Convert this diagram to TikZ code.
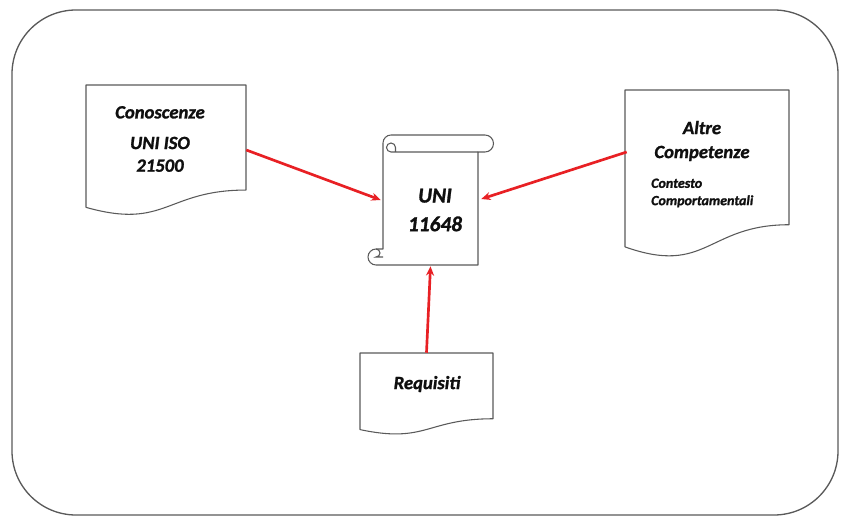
\documentclass[tikz,border=0pt]{standalone}
\usepackage{fontspec}
\setmainfont{Carlito}[BoldItalicFeatures={FakeBold=1.3}]
\usetikzlibrary{arrows.meta,calc}
\definecolor{edge}{RGB}{90,90,90}
\definecolor{arrred}{RGB}{232,32,36}
\definecolor{txt}{RGB}{15,15,15}
\tikzset{
  shapeline/.style={draw=edge,line width=0.8pt,fill=white,line join=round},
  detail/.style={draw=edge,line width=0.8pt},
  arr/.style={draw=arrred,line width=2pt,-{Stealth[length=7pt,width=6pt]}},
  lbl/.style={text=txt,font=\bfseries\itshape,inner sep=0pt,align=center},
  hold/.style={inner sep=0pt,draw=none},
}
\newcommand{\docshape}[4]{% x1 x2 top h
  \path[shapeline] (#1,#3) -- (#2,#3) -- (#2,{#3+0.802*#4})
    .. controls ({(#1+#2)/2},{#3+0.802*#4}) and ({(#1+#2)/2},{#3+1.107*#4}) .. (#1,{#3+0.934*#4}) -- cycle;}
\begin{document}
\begin{tikzpicture}[x=0.75pt,y=-0.75pt]
\useasboundingbox (0,0) rectangle (847,524);
\fill[white] (0,0) rectangle (847,524);
% outer frame
\draw[draw=edge,line width=1pt,rounded corners=48pt] (12,10) rectangle (838,515);

% documents
\docshape{86}{246}{85}{131}
\docshape{625}{789}{90}{168}
\docshape{360}{493}{353}{82}

% scroll
\path[shapeline] (391,135) -- (485,135) arc[start angle=-90,end angle=90,radius=8.5]
  -- (478,152) -- (478,265) -- (376,265)
  arc[start angle=90,end angle=270,radius=8] -- (383,249) -- (383,143)
  arc[start angle=180,end angle=270,radius=8] -- cycle;
\draw[detail] (478,152) -- (391,152) arc[start angle=90,end angle=360,radius=4.5] -- (395.5,152);
\draw[detail] (376,249) arc[start angle=-90,end angle=90,radius=4] -- (383,257);

% holder nodes
\node[hold,minimum width=120pt,minimum height=78.75pt] (conos) at (166,137.5) {};
\node[hold,minimum width=123pt,minimum height=101.25pt] (altre) at (707,157.5) {};
\node[hold,minimum width=99.75pt,minimum height=49.5pt] (req) at (426.5,386) {};
\node[hold,minimum width=71.25pt,minimum height=98.25pt] (uni) at (430.5,199.5) {};

% labels
\node[lbl,font=\bfseries\itshape\fontsize{14}{17}\selectfont] (tconos) at (160,139) {Conoscenze\\[6pt]UNI ISO\\21500};
\node[lbl,font=\bfseries\itshape\fontsize{16}{19.5}\selectfont] (tuni) at (435,210) {UNI\\[2pt]11648};
\node[lbl,font=\bfseries\itshape\fontsize{14}{18}\selectfont] (taltre) at (702,141) {Altre\\Competenze};
\node[lbl,align=left,anchor=west,font=\bfseries\itshape\fontsize{10.5}{13}\selectfont] (tcont) at (651,193) {Contesto\\Comportamentali};
\node[lbl,font=\bfseries\itshape\fontsize{14}{17}\selectfont] (treq) at (427,384) {Requisiti};

% connectors
\draw[arr] ($(conos.east)+(0,12.5)$) -- ($(uni.west)+(-2,0.5)$);
\draw[arr] ($(altre.west)+(2,-5.5)$) -- ($(uni.east)+(3,-0.5)$);
\draw[arr] (req.north) -- ($(uni.south)+(0,1)$);
\end{tikzpicture}
\end{document}
